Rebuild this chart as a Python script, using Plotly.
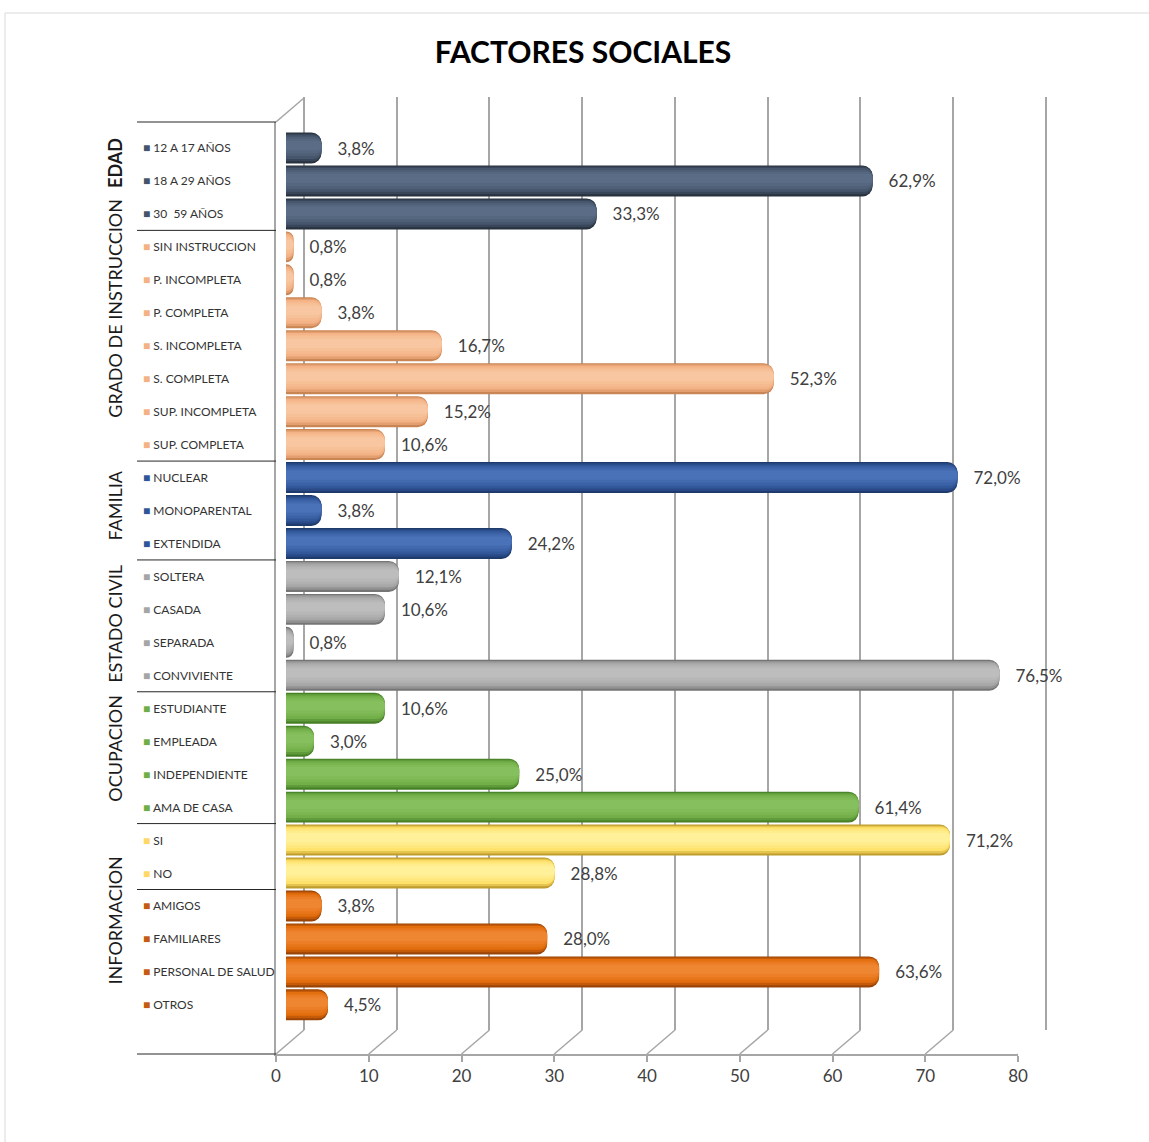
import plotly.graph_objects as go

W, H = 1149, 1142

# ---------------- data ----------------
categories = [
    "12 A 17 AÑOS", "18 A 29 AÑOS", "30  59 AÑOS",
    "SIN INSTRUCCION", "P. INCOMPLETA", "P. COMPLETA", "S. INCOMPLETA",
    "S. COMPLETA", "SUP. INCOMPLETA", "SUP. COMPLETA",
    "NUCLEAR", "MONOPARENTAL", "EXTENDIDA",
    "SOLTERA", "CASADA", "SEPARADA", "CONVIVIENTE",
    "ESTUDIANTE", "EMPLEADA", "INDEPENDIENTE", "AMA DE CASA",
    "SI", "NO",
    "AMIGOS", "FAMILIARES", "PERSONAL DE SALUD", "OTROS",
]
values = [
    3.8, 62.9, 33.3,
    0.8, 0.8, 3.8, 16.7, 52.3, 15.2, 10.6,
    72.0, 3.8, 24.2,
    12.1, 10.6, 0.8, 76.5,
    10.6, 3.0, 25.0, 61.4,
    71.2, 28.8,
    3.8, 28.0, 63.6, 4.5,
]
group_sizes = [3, 7, 3, 4, 4, 2, 4]
group_labels = ["EDAD", "GRADO DE INSTRUCCION", "FAMILIA", "ESTADO CIVIL",
                "OCUPACION", "INFORMACION", "INFORMACION"]
x_ticks = [0, 10, 20, 30, 40, 50, 60, 70, 80]

# ---------------- styles ----------------
# (dark edge, base, highlight, legend key)
group_colors = [
    ("#28323f", "#44546A", "#5b6d86", "#44546A"),
    ("#c98553", "#F4B183", "#f8c6a0", "#F4B183"),
    ("#1f3a6c", "#2F5597", "#4a72b8", "#2F5597"),
    ("#757575", "#A5A5A5", "#bdbdbd", "#A5A5A5"),
    ("#467f26", "#70AD47", "#86c05e", "#70AD47"),
    ("#bf9c2e", "#FFE066", "#fff09a", "#FFD966"),
    ("#9a4407", "#E26B0A", "#ee8530", "#C55A11"),
]
FONT = "Lato"
TXT = "#404040"
GRID = "#a6a6a6"


def px(X):
    return X / W


def py(Y):
    return 1 - Y / H


def hex2rgb(h):
    h = h.lstrip("#")
    return [int(h[i:i + 2], 16) for i in (0, 2, 4)]


def mix(a, b, t):
    ra, rb = hex2rgb(a), hex2rgb(b)
    return "#" + "".join(f"{round(x + (y - x) * t):02x}" for x, y in zip(ra, rb))


def shade(colors, t):
    d, m, l = colors[0], colors[1], colors[2]
    return mix(d, m, t / 0.5) if t <= 0.5 else mix(m, l, (t - 0.5) / 0.5)


grp = []
for gi, n in enumerate(group_sizes):
    grp += [gi] * n

keyc = [group_colors[g][3] for g in grp]
labels_txt = ["\u00a0\u00a0\u00a0" + f"{v:.1f}%".replace(".", ",") for v in values]

fig = go.Figure()

# back-wall grid subplot (drawn first)
fig.add_trace(go.Scatter(x=[], y=[], xaxis="x", yaxis="y", showlegend=False, hoverinfo="skip"))
# front frame subplot
fig.add_trace(go.Scatter(x=[], y=[], xaxis="x2", yaxis="y2", showlegend=False, hoverinfo="skip"))

# cylinder-like bars: overlays of decreasing thickness, lighter towards upper-middle
layers = [  # (thickness, shade, centre shift, corner radius)
    (0.94, 0.00, 0.000, 10),
    (0.84, 0.30, -0.015, 9),
    (0.72, 0.55, -0.030, 8),
    (0.58, 0.72, -0.045, 7),
    (0.44, 0.87, -0.060, 6),
    (0.28, 1.00, -0.075, 4),
]
for k, (w, t, sh, cr) in enumerate(layers):
    cols = [shade(group_colors[g], t) for g in grp]
    kw = {}
    if k == 0:
        kw = dict(text=labels_txt, textposition="outside", cliponaxis=False,
                  constraintext="none", textfont=dict(family=FONT, size=17, color=TXT))
    fig.add_trace(go.Bar(
        y=categories, x=values, orientation="h", xaxis="x3", yaxis="y3",
        marker=dict(color=cols, line=dict(width=0), cornerradius=cr),
        width=w, offset=-w / 2 + sh, showlegend=False, hoverinfo="skip", **kw,
    ))

shapes = []
# floor diagonals (front tick -> back tick)
for t in x_ticks:
    shapes.append(dict(type="line", xref="x2", xsizemode="pixel", xanchor=t, x0=0, x1=28,
                       yref="paper", ysizemode="pixel", yanchor=py(1054), y0=0, y1=24,
                       line=dict(color=GRID, width=1.5), layer="below"))
# left wall top diagonal
shapes.append(dict(type="line", xref="x2", xsizemode="pixel", xanchor=0, x0=0, x1=28,
                   yref="paper", ysizemode="pixel", yanchor=py(122), y0=0, y1=24,
                   line=dict(color=GRID, width=1.5), layer="below"))

# category group dividers
bounds = []
acc = 0
for n in group_sizes[:-1]:
    acc += n
    bounds.append(acc - 0.5)
for b in bounds:
    shapes.append(dict(type="line", xref="paper", x0=px(137), x1=px(276),
                       yref="y3", y0=b, y1=b, line=dict(color="#262626", width=1)))
for Y in (122, 1054):
    shapes.append(dict(type="line", xref="paper", x0=px(137), x1=px(276),
                       yref="paper", y0=py(Y), y1=py(Y), line=dict(color="#262626", width=1)))
# outer chart border
shapes.append(dict(type="rect", xref="paper", yref="paper", x0=px(5), x1=px(1170),
                   y0=py(13), y1=py(1160), line=dict(color="#d9d9d9", width=1),
                   fillcolor="rgba(0,0,0,0)"))

annotations = []
# category labels with colored keys
for c, k in zip(categories, keyc):
    annotations.append(dict(
        text=f"<span style='font-size:12px;color:{k}'>■</span> {c}",
        xref="paper", x=px(141), xanchor="left", yref="y3", y=c, yanchor="middle",
        showarrow=False, font=dict(family=FONT, size=12, color="#333333"),
    ))
# group labels (rotated)
label_shift = {"EDAD": 18, "GRADO DE INSTRUCCION": 37, "FAMILIA": 5, "ESTADO CIVIL": 2,
               "OCUPACION": 9, "INFORMACION": 2}
seen = []
for gl in group_labels:
    if gl in seen:
        continue
    seen.append(gl)
    idx = [i for i, g in enumerate(grp) if group_labels[g] == gl]
    mid = sum(idx) / len(idx)
    bold = gl == "EDAD"
    annotations.append(dict(
        text=f"<b>{gl}</b>" if bold else gl, textangle=-90,
        xref="paper", x=px(115), xanchor="center", yref="y3", y=mid, yanchor="middle",
        yshift=label_shift[gl], showarrow=False,
        font=dict(family=FONT, size=18, color="#1a1a1a"),
    ))

pad = 0.12  # keep the gridlines at 0 and 80 inside the back axis range
unit = (1046 - 304) / 80

fig.update_layout(
    width=W, height=H,
    margin=dict(l=0, r=0, t=0, b=0),
    paper_bgcolor="white", plot_bgcolor="rgba(0,0,0,0)",
    barmode="overlay",
    title=dict(text="<b>FACTORES SOCIALES</b>", x=px(583), xanchor="center",
               y=py(52), yanchor="middle", font=dict(family=FONT, size=30, color="#000000")),
    xaxis=dict(domain=[px(304 - pad * unit), px(1046 + pad * unit)], range=[-pad, 80 + pad],
               tickvals=x_ticks, showgrid=True,
               gridcolor=GRID, gridwidth=1.5, showticklabels=False, ticks="", zeroline=False,
               showline=False, anchor="y", automargin=False, fixedrange=True),
    yaxis=dict(domain=[py(1030), py(97)], range=[0, 1], visible=False, anchor="x",
               automargin=False, fixedrange=True),
    xaxis2=dict(domain=[px(276), px(1018)], range=[0, 80], tickvals=x_ticks, showgrid=False,
                zeroline=False, showline=True, linecolor=GRID, linewidth=1.5,
                ticks="outside", ticklen=6, tickcolor=GRID, tickwidth=1.5,
                tickfont=dict(family=FONT, size=17, color=TXT), anchor="y2",
                automargin=False, fixedrange=True),
    yaxis2=dict(domain=[py(1054), py(122)], range=[0, 1], showgrid=False, zeroline=False,
                showline=True, linecolor=GRID, linewidth=1.5, showticklabels=False, ticks="",
                anchor="x2", automargin=False, fixedrange=True),
    xaxis3=dict(domain=[px(286), px(1032)], range=[0, 80], showgrid=False, zeroline=False,
                showline=False, showticklabels=False, ticks="", anchor="y3",
                automargin=False, fixedrange=True),
    yaxis3=dict(domain=[py(1050), py(122)], type="category", categoryorder="array",
                categoryarray=categories, range=[27.37, -0.789], autorange=False,
                showgrid=False, zeroline=False, showline=False, showticklabels=False,
                ticks="", anchor="x3", automargin=False, fixedrange=True),
    shapes=shapes,
    annotations=annotations,
)

fig.write_html("out.html")
